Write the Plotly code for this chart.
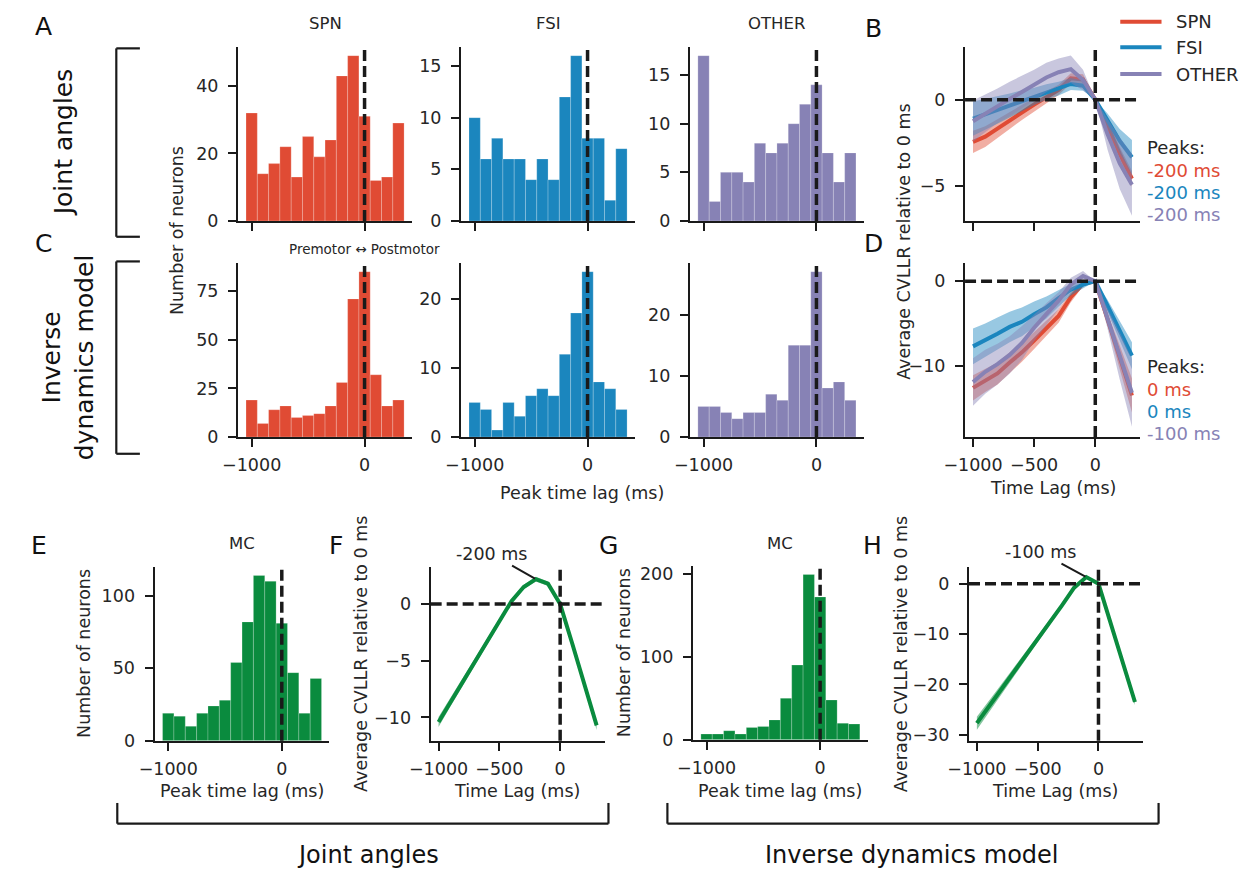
import plotly.graph_objects as go

W, H = 1246, 883
FONT = "DejaVu Sans"
INK = "#262626"

# ---------------- data ----------------
bin_centers = [-1000, -900, -800, -700, -600, -500, -400, -300, -200, -100, 0, 100, 200, 300]
lags = [-1000, -900, -800, -700, -600, -500, -400, -300, -200, -100, 0, 100, 200, 300]

spn_joint = [32, 14, 17, 22, 13, 25, 19, 24, 43, 49, 31, 12, 13, 29]
fsi_joint = [10, 6, 8, 6, 6, 4, 6, 4, 12, 16, 8, 8, 2, 7]
other_joint = [17, 2, 5, 5, 4, 8, 7, 8, 10, 12, 14, 7, 4, 7]
spn_inv = [19, 7, 14, 16, 10, 11, 12, 16, 28, 71, 85, 32, 16, 19]
fsi_inv = [5, 4, 1, 5, 3, 6, 7, 6, 12, 18, 24, 8, 7, 4]
other_inv = [5, 5, 4, 3, 4, 4, 7, 6, 15, 15, 27, 8, 9, 6]
mc_joint = [19, 17, 10, 19, 24, 28, 54, 82, 114, 110, 81, 47, 19, 43]
mc_inv = [7, 7, 11, 7, 15, 16, 24, 50, 90, 199, 172, 48, 20, 19]

# CVLLR curves (mean, sem)
spn_joint_cv = [-2.45, -2.15, -1.68, -1.2, -0.73, -0.28, 0.15, 0.57, 1.25, 1.18, 0, -1.5, -3.15, -4.6]
spn_joint_sem = [0.65, 0.6, 0.55, 0.5, 0.45, 0.4, 0.35, 0.3, 0.3, 0.3, 0, 0.35, 0.4, 0.45]
fsi_joint_cv = [-1.1, -0.85, -0.6, -0.33, -0.05, 0.2, 0.45, 0.65, 0.92, 0.82, 0, -1.2, -2.4, -3.35]
fsi_joint_sem = [1.0, 0.9, 0.8, 0.7, 0.6, 0.5, 0.45, 0.4, 0.35, 0.3, 0, 0.4, 0.7, 1.0]
other_joint_cv = [-1.25, -0.8, -0.35, 0.05, 0.45, 0.85, 1.3, 1.6, 1.78, 1.15, 0, -2.0, -3.7, -4.95]
other_joint_sem = [1.2, 1.1, 1.0, 1.0, 0.95, 0.9, 0.85, 0.8, 0.8, 0.6, 0, 0.9, 1.5, 1.8]

spn_inv_cv = [-12.6, -11.7, -10.9, -9.6, -8.4, -7.0, -5.6, -4.1, -1.9, -0.3, 0, -4.5, -9.0, -13.5]
spn_inv_sem = [1.5, 1.4, 1.3, 1.2, 1.1, 1.0, 0.9, 0.8, 0.6, 0.3, 0, 0.8, 1.4, 2.0]
fsi_inv_cv = [-7.7, -7.0, -6.2, -5.4, -4.8, -3.9, -3.1, -2.0, -1.0, -0.4, 0, -2.9, -5.9, -8.8]
fsi_inv_sem = [2.1, 2.0, 1.9, 1.8, 1.7, 1.5, 1.3, 1.0, 0.7, 0.4, 0, 0.7, 1.2, 1.6]
other_inv_cv = [-11.9, -10.7, -9.8, -8.7, -7.3, -5.5, -3.9, -2.3, -0.4, 0.6, 0, -4.4, -8.8, -13.2]
other_inv_sem = [2.8, 2.6, 2.4, 2.2, 2.0, 1.6, 1.3, 1.0, 0.8, 0.6, 0, 1.2, 2.8, 4.0]

mc_joint_cv = [-10.4, -8.6, -6.85, -5.1, -3.3, -1.5, 0.25, 1.5, 2.2, 1.8, 0, -3.5, -7.1, -10.7]
mc_joint_sem = [0.45, 0.4, 0.35, 0.3, 0.3, 0.25, 0.2, 0.2, 0.2, 0.2, 0, 0.2, 0.3, 0.4]
mc_inv_cv = [-27.7, -24.4, -21.0, -17.7, -14.3, -11.0, -7.6, -4.3, -0.8, 1.3, 0, -7.8, -15.7, -23.5]
mc_inv_sem = [1.3, 1.1, 1.0, 0.9, 0.8, 0.7, 0.5, 0.4, 0.3, 0.3, 0, 0.4, 0.5, 0.6]

cell_types = ["SPN", "FSI", "OTHER"]
peak_labels_joint = ["-200 ms", "-200 ms", "-200 ms"]
peak_labels_inv = ["0 ms", "0 ms", "-100 ms"]

COL = {"SPN": "#E04B34", "FSI": "#1B86BE", "OTHER": "#8782B5"}
GREEN = "#0A8B3E"


def rgba(hexc, a):
    h = hexc.lstrip("#")
    r, g, b = int(h[0:2], 16), int(h[2:4], 16), int(h[4:6], 16)
    return f"rgba({r},{g},{b},{a})"


def pxx(x):
    return x / W


def pxy(y):
    return 1 - y / H


fig = go.Figure()
layout = {}
shapes = []
annotations = []

HIST_XR = [-1120, 420]
LINE_XR = [-1065, 365]


def setup_axis(n, box, xr, yr, xticks, yticks, xlabels):
    l, t, r, b = box
    xk = "xaxis" if n == 1 else f"xaxis{n}"
    yk = "yaxis" if n == 1 else f"yaxis{n}"
    common = dict(showline=True, linecolor="#1a1a1a", linewidth=2.2, ticks="outside",
                  ticklen=8, tickwidth=2, tickcolor="#1a1a1a", showgrid=False, zeroline=False,
                  tickfont=dict(family=FONT, size=17.5, color=INK), fixedrange=True)
    layout[xk] = dict(common, domain=[pxx(l), pxx(r)], range=xr, anchor=f"y{n}" if n > 1 else "y",
                      tickvals=xticks, showticklabels=xlabels, ticklabelstandoff=3)
    layout[yk] = dict(common, domain=[pxy(b), pxy(t)], range=yr, anchor=f"x{n}" if n > 1 else "x",
                      tickvals=yticks, ticklabelstandoff=6)


def axref(n):
    return ("x", "y") if n == 1 else (f"x{n}", f"y{n}")


def vdash(n):
    xa, ya = axref(n)
    shapes.append(dict(type="line", xref=xa, yref=f"{ya} domain", x0=0, x1=0, y0=0, y1=1,
                       line=dict(color="#1a1a1a", width=3.5, dash="11px,5px"), layer="above"))


def hdash(n):
    xa, ya = axref(n)
    shapes.append(dict(type="line", xref=f"{xa} domain", yref=ya, x0=0, x1=1, y0=0, y1=0,
                       line=dict(color="#1a1a1a", width=3.5, dash="11px,5px"), layer="above"))


def hist(n, counts, color):
    xa, ya = axref(n)
    fig.add_trace(go.Bar(x=bin_centers, y=counts, width=100, marker=dict(
        color=color, line=dict(color="rgba(255,255,255,0.35)", width=0.6)),
        xaxis=xa, yaxis=ya, showlegend=False, hoverinfo="skip"))


def curve(n, mean, sem, color, alpha=0.45):
    xa, ya = axref(n)
    up = [m + s for m, s in zip(mean, sem)]
    lo = [m - s for m, s in zip(mean, sem)]
    fig.add_trace(go.Scatter(x=lags + lags[::-1], y=up + lo[::-1], fill="toself",
                             fillcolor=rgba(color, alpha), line=dict(width=0), mode="lines",
                             xaxis=xa, yaxis=ya, showlegend=False, hoverinfo="skip"))
    fig.add_trace(go.Scatter(x=lags, y=mean, mode="lines", line=dict(color=color, width=4),
                             xaxis=xa, yaxis=ya, showlegend=False, hoverinfo="skip"))


def text(x, y, s, size=17.5, color=INK, angle=0, xanchor="center", yanchor="middle"):
    annotations.append(dict(x=pxx(x), y=pxy(y), xref="paper", yref="paper", text=s,
                            showarrow=False, textangle=angle, xanchor=xanchor, yanchor=yanchor,
                            font=dict(family=FONT, size=size, color=color)))


# ---------- top-left histograms ----------
top_hist = [spn_joint, fsi_joint, other_joint]
bot_hist = [spn_inv, fsi_inv, other_inv]
col_x = [(220, 397), (447, 624), (680, 857)]
top_yt = [[0, 20, 40], [0, 5, 10, 15], [0, 5, 10, 15]]
bot_yt = [[0, 25, 50, 75], [0, 10, 20], [0, 10, 20]]

n = 1
for i, ct in enumerate(cell_types):
    l, r = col_x[i]
    setup_axis(n, (l, 46, r, 222), HIST_XR, [0, max(top_hist[i]) * 1.05], [-1000, 0], top_yt[i], False)
    hist(n, top_hist[i], COL[ct])
    vdash(n)
    text((l + r) / 2, 22, ct, size=16.5)
    n += 1
for i, ct in enumerate(cell_types):
    l, r = col_x[i]
    setup_axis(n, (l, 265, r, 441), HIST_XR, [0, max(bot_hist[i]) * 1.05], [-1000, 0], bot_yt[i], True)
    hist(n, bot_hist[i], COL[ct])
    vdash(n)
    n += 1

# ---------- B ----------
nB = n
setup_axis(nB, (960, 46, 1138, 222), LINE_XR, [-7.06, 3.05], [-1000, -500, 0], [-5, 0], False)
for ct, m, s in zip(cell_types, [spn_joint_cv, fsi_joint_cv, other_joint_cv],
                    [spn_joint_sem, fsi_joint_sem, other_joint_sem]):
    curve(nB, m, s, COL[ct])
hdash(nB)
vdash(nB)
n += 1

# ---------- D ----------
nD = n
setup_axis(nD, (960, 265, 1138, 441), LINE_XR, [-18.4, 2.1], [-1000, -500, 0], [-10, 0], True)
for ct, m, s in zip(cell_types, [spn_inv_cv, fsi_inv_cv, other_inv_cv],
                    [spn_inv_sem, fsi_inv_sem, other_inv_sem]):
    curve(nD, m, s, COL[ct])
hdash(nD)
vdash(nD)
n += 1

# ---------- E ----------
nE = n
setup_axis(nE, (135, 573, 313, 749), HIST_XR, [0, max(mc_joint) * 1.05], [-1000, 0], [0, 50, 100], True)
hist(nE, mc_joint, GREEN)
vdash(nE)
n += 1

# ---------- F ----------
nF = n
setup_axis(nF, (416, 573, 593, 749), LINE_XR, [-12.06, 3.25], [-1000, -500, 0], [-10, -5, 0], True)
curve(nF, mc_joint_cv, mc_joint_sem, GREEN, 0.5)
hdash(nF)
vdash(nF)
n += 1

# ---------- G ----------
nG = n
setup_axis(nG, (683, 572, 861, 748), HIST_XR, [0, max(mc_inv) * 1.05], [-1000, 0], [0, 100, 200], True)
hist(nG, mc_inv, GREEN)
vdash(nG)
n += 1

# ---------- H ----------
nH = n
setup_axis(nH, (964, 573, 1141, 749), LINE_XR, [-31.2, 3.26], [-1000, -500, 0], [-30, -20, -10, 0], True)
curve(nH, mc_inv_cv, mc_inv_sem, GREEN, 0.5)
hdash(nH)
vdash(nH)

# peak annotations F / H
for nn, cv, tx, ty in [(nF, mc_joint_cv, -44, -25), (nH, mc_inv_cv, -46, -25)]:
    k = cv.index(max(cv))
    xa, ya = axref(nn)
    annotations.append(dict(x=lags[k], y=cv[k], xref=xa, yref=ya, text=f"{lags[k]} ms",
                            showarrow=True, arrowhead=0, arrowwidth=2, arrowcolor="#1a1a1a",
                            ax=tx, ay=ty, standoff=1,
                            font=dict(family=FONT, size=17.5, color=INK)))

# ---------- texts ----------
for s, x, y in [("A", 22, 25), ("B", 867, 27), ("C", 22, 245), ("D", 867, 245),
                ("E", 17, 551), ("F", 320, 551), ("G", 597, 551), ("H", 866, 551)]:
    text(x, y, s, size=25, color="#111111")

text(42, 142, "Joint angles", size=25, angle=-90, color="#111111")
text(47, 360, "Inverse<br>dynamics model", size=25, angle=-90, color="#111111")
text(158, 232, "Number of neurons", angle=-90)
text(348.7, 250, "Premotor ↔ Postmotor", size=13.5)
text(570, 498, "Peak time lag (ms)")
text(898, 243, "Average CVLLR relative to 0 ms", angle=-90)
text(1050, 493, "Time Lag (ms)")

# legend
for i, (ct, y) in enumerate(zip(cell_types, [20, 46, 73])):
    shapes.append(dict(type="line", xref="paper", yref="paper", x0=pxx(1118), x1=pxx(1160),
                       y0=pxy(y), y1=pxy(y), line=dict(color=COL[ct], width=4)))
    text(1173, y, ct, size=18, xanchor="left")

# peaks lists
for y0, labels in [(148, peak_labels_joint), (370, peak_labels_inv)]:
    text(1143, y0, "Peaks:", size=18, xanchor="left")
    for i, (ct, lab) in enumerate(zip(cell_types, labels)):
        text(1143, y0 + 22.5 * (i + 1), lab, size=18, color=COL[ct], xanchor="left")

# bottom panel labels
text(224, 549, "MC", size=16.5)
text(772, 549, "MC", size=16.5)
text(63, 660, "Number of neurons", angle=-90)
text(224, 800, "Peak time lag (ms)")
text(345, 661, "Average CVLLR relative to 0 ms", angle=-90)
text(504, 800, "Time Lag (ms)")
text(613, 660, "Number of neurons", angle=-90)
text(772, 800, "Peak time lag (ms)")
text(895, 661, "Average CVLLR relative to 0 ms", angle=-90)
text(1052, 800, "Time Lag (ms)")

# brackets
BR = dict(color="#1a1a1a", width=2.2)
for t, b in [(47, 238), (263, 458)]:
    for (x0, y0, x1, y1) in [(96, t, 96, b), (96, t, 120, t), (96, b, 120, b)]:
        shapes.append(dict(type="line", xref="paper", yref="paper", x0=pxx(x0), x1=pxx(x1),
                           y0=pxy(y0), y1=pxy(y1), line=BR))
for l, r in [(97, 597), (657, 1157)]:
    for (x0, y0, x1, y1) in [(l, 833, r, 833), (l, 812, l, 833), (r, 812, r, 833)]:
        shapes.append(dict(type="line", xref="paper", yref="paper", x0=pxx(x0), x1=pxx(x1),
                           y0=pxy(y0), y1=pxy(y1), line=BR))
text(352, 865, "Joint angles", size=24, color="#111111")
text(905, 865, "Inverse dynamics model", size=24, color="#111111")

layout.update(dict(width=W, height=H, margin=dict(l=0, r=0, t=0, b=0, pad=0),
                   paper_bgcolor="white", plot_bgcolor="white", showlegend=False,
                   shapes=shapes, annotations=annotations, barmode="overlay",
                   font=dict(family=FONT, size=17.5, color=INK)))
fig.update_layout(layout)
fig.write_html("out.html", config={"displayModeBar": False},
               post_script="document.body.style.margin='0px';"
                           "document.documentElement.style.overflow='hidden';"
                           "document.body.style.overflow='hidden';")
